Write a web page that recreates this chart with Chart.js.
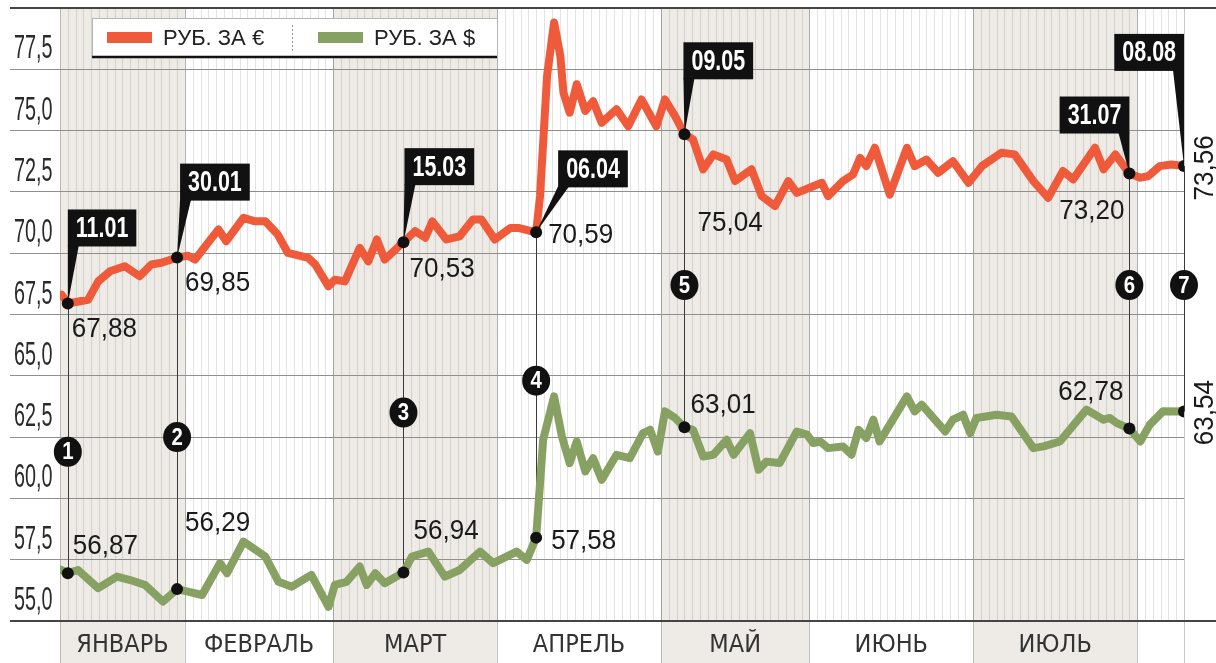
<!DOCTYPE html>
<html lang="ru">
<head>
<meta charset="utf-8">
<title>Курс рубля</title>
<script src="https://cdn.jsdelivr.net/npm/chart.js@4.4.1/dist/chart.umd.min.js"></script>
<style>
  html, body { margin: 0; padding: 0; background: #fff; }
  #wrap { width: 1216px; height: 663px; }
</style>
</head>
<body>
<div id="wrap"><canvas id="kurs" width="1216" height="663"></canvas></div>
<script>
// --- данные (индекс торгового дня с 10.01) ---
const monthNames = ["ЯНВАРЬ", "ФЕВРАЛЬ", "МАРТ", "АПРЕЛЬ", "МАЙ", "ИЮНЬ", "ИЮЛЬ", ""];
const monthStarts = [0, 16, 35, 56, 77, 96, 117, 138, 144];
const yTicks = [55, 57.5, 60, 62.5, 65, 67.5, 70, 72.5, 75, 77.5, 80];

const eurX = [0.2, 1, 3.6, 4.9, 6.4, 8.3, 10.2, 11.7, 13, 15, 16.4, 17.3, 20.3, 21.3, 23.5, 25, 26.3, 27.9, 29.2, 31.8,
  32.7, 34.4, 35.2, 36.5, 38.4, 39.5, 40.6, 41.6, 44, 45.5, 46.8, 47.7, 49.5, 51.2, 52.9, 54, 55.7, 57.7, 58.7, 61,
  61.5, 62.4, 63.3, 64.1, 64.5, 65.3, 66.2, 67.3, 68.3, 69.4, 71.3, 72.8, 74.5, 76.4, 77.5, 78.8, 80, 81.1, 82.4, 83.7,
  85.4, 86.5, 88.6, 89.9, 91.6, 93.3, 94.4, 96.5, 97.6, 98.4, 100.3, 101.6, 102.5, 103.3, 104.4, 106.3, 108.5, 109.5, 111, 112.5,
  114.4, 116.4, 118.1, 120.6, 122.3, 124.7, 126.6, 128.5, 129.8, 132.6, 133.7, 135.2, 137, 138.4, 139.4, 140.9, 142.4, 144];
const eurY = [68.31, 67.95, 68.1, 68.85, 69.26, 69.47, 69.06, 69.54, 69.61, 69.82, 69.9, 69.74, 70.97, 70.49, 71.44, 71.3, 71.3, 70.76, 70.01, 69.81,
  69.54, 68.65, 68.92, 68.85, 70.22, 69.67, 70.56, 69.74, 70.45, 70.9, 70.63, 71.3, 70.56, 70.69, 71.37, 71.37, 70.56, 71.03, 71.03, 70.85,
  72.33, 77.23, 79.41, 78.04, 76.55, 75.73, 76.89, 75.8, 76.2, 75.32, 75.87, 75.18, 76.27, 75.18, 76.27, 75.59, 74.85, 74.64, 73.42, 74.03,
  73.82, 72.94, 73.42, 72.33, 71.92, 72.94, 72.46, 72.73, 72.87, 72.33, 72.94, 73.21, 73.89, 73.55, 74.3, 72.39, 74.3, 73.55, 73.82, 73.28,
  73.75, 72.87, 73.55, 74.1, 74.03, 72.94, 72.26, 73.35, 73.01, 74.3, 73.42, 74.03, 73.25, 73.08, 73.14, 73.55, 73.62, 73.56];

const usdX = [0.2, 1, 2.3, 4.9, 7.3, 9, 10.9, 13.2, 15, 16.4, 18.2, 20.5, 21.4, 23.5, 26.3, 28, 29.7, 32.2, 34.4, 35.2,
  36.7, 38.4, 39.3, 40.4, 41.6, 44, 45.1, 47.2, 49.3, 51.2, 53.8, 55.5, 58.5, 59.8, 61, 61.9, 63.3, 64.3, 65.3, 66.2,
  67.3, 68.3, 69.4, 71.3, 73, 74.7, 75.6, 76.6, 77.5, 78.8, 80, 81.1, 82.4, 83.7, 85.4, 86.3, 88.4, 89.5, 90.5, 92.2,
  94.4, 95.7, 96.5, 97.4, 98.4, 100.3, 101.4, 102.3, 103.3, 104.2, 105, 108.5, 109.5, 110.4, 113.4, 114.4, 115.7, 116.6, 117.4, 120,
  121.9, 124.7, 126, 128.1, 131.5, 133.7, 134.5, 135.4, 137, 138.4, 139.6, 141.3, 144];
const usdY = [57.08, 56.95, 57.08, 56.34, 56.81, 56.67, 56.47, 55.79, 56.3, 56.2, 56.06, 57.36, 56.95, 58.24, 57.63, 56.6, 56.4, 56.88, 55.58, 56.47,
  56.6, 57.22, 56.47, 56.95, 56.54, 56.98, 57.63, 57.83, 56.81, 57.08, 57.83, 57.36, 57.83, 57.49, 58.4, 62.39, 64.16, 62.53, 61.44, 62.32,
  61.1, 61.64, 60.76, 61.78, 61.64, 62.66, 62.8, 61.91, 63.55, 63.28, 62.9, 62.8, 61.71, 61.78, 62.39, 61.78, 62.66, 61.17, 61.5, 61.44,
  62.73, 62.6, 62.26, 62.32, 62.05, 62.12, 61.78, 62.8, 62.46, 63.21, 62.32, 64.16, 63.55, 63.82, 62.73, 63.21, 63.41, 62.66, 63.28, 63.41,
  63.34, 62.05, 62.12, 62.32, 63.62, 63.21, 63.28, 63.07, 62.85, 62.32, 63.0, 63.55, 63.54];

const keyDates = ["11.01", "30.01", "15.03", "06.04", "09.05", "31.07", "08.08"];
const keyX = [1, 15, 44, 61, 80, 137, 144];
const eurLabels = ["67,88", "69,85", "70,53", "70,59", "75,04", "73,20", "73,56"];
const usdLabels = ["56,87", "56,29", "56,94", "57,58", "63,01", "62,78", "63,54"];

// --- оформление ---
const euroColor = "#ee5a3a";
const usdColor = "#87a163";
const bandColor = "#eeebe6";
const NARROW = '"Liberation Sans Narrow", "DejaVu Sans Condensed", "Liberation Sans", sans-serif';
const SANS = '"Liberation Sans", Arial, sans-serif';

// где рисовать выноски, кружки и подписи (смещения в пикселях от точки)
const layoutNotes = {
  callout: [
    { dx: 0, dy: -94, side: "left" }, { dx: 3, dy: -94, side: "left" }, { dx: 1, dy: -94, side: "left" },
    { dx: 22, dy: -82, side: "left" }, { dx: -1, dy: -92, side: "left" },
    { dx: 0, dy: -77, side: "right" }, { dx: 0, dy: -132, side: "right" },
  ],
  badgeValue: [61.9, 62.5, 63.5, 64.8, 68.7, 68.7, 68.7],
  eurText: [
    { dx: 4, dy: 26, align: "left" }, { dx: 8, dy: 26, align: "left" }, { dx: 6, dy: 27, align: "left" },
    { dx: 12, dy: 3, align: "left" }, { dx: 13, dy: 89, align: "left" }, { dx: -5, dy: 38, align: "right" },
    { dx: 21, dy: 2, rot: true },
  ],
  usdText: [
    { dx: 5, dy: -27, align: "left" }, { dx: 8, dy: -66, align: "left" }, { dx: 10, dy: -41, align: "left" },
    { dx: 15, dy: 4, align: "left" }, { dx: 6, dy: -22, align: "left" }, { dx: -6, dy: -36, align: "right" },
    { dx: 21, dy: 1, rot: true },
  ],
};

function puntoEn(chart, dsIndex, xv) {
  const meta = chart.getDatasetMeta(dsIndex);
  const i = chart.data.datasets[dsIndex].data.findIndex((p) => p.x === xv);
  return meta.data[i];
}

// текст, сжатый по горизонтали (узкий шрифт)
function textoEstrecho(ctx, txt, x, y, sx, align) {
  ctx.save();
  ctx.translate(x, y);
  ctx.scale(sx, 1);
  ctx.textAlign = align;
  ctx.fillText(txt, 0, 0);
  ctx.restore();
}

const plugin_fondo = {
  id: "fondo",
  beforeDraw(chart) {
    const { ctx, chartArea: a, scales: { x } } = chart;
    ctx.save();
    ctx.fillStyle = "#fff";
    ctx.fillRect(0, 0, chart.width, chart.height);
    // полосы месяцев
    for (let m = 0; m < monthStarts.length - 1; m++) {
      if (m % 2 !== 0) continue;
      const x0 = x.getPixelForValue(monthStarts[m]);
      const x1 = x.getPixelForValue(monthStarts[m + 1]);
      ctx.fillStyle = bandColor;
      ctx.fillRect(x0, a.top, x1 - x0, chart.height - a.top);
    }
    // линии по дням
    ctx.strokeStyle = "rgba(0,0,0,0.11)";
    ctx.lineWidth = 1;
    ctx.beginPath();
    for (let d = 1; d < monthStarts[monthStarts.length - 1]; d++) {
      const px = Math.round(x.getPixelForValue(d)) + 0.5;
      ctx.moveTo(px, a.top);
      ctx.lineTo(px, a.bottom);
    }
    ctx.stroke();
    // границы месяцев
    ctx.strokeStyle = "rgba(0,0,0,0.22)";
    ctx.beginPath();
    monthStarts.forEach((m) => {
      const px = Math.round(x.getPixelForValue(m)) + 0.5;
      ctx.moveTo(px, a.top);
      ctx.lineTo(px, chart.height);
    });
    ctx.stroke();
    ctx.restore();
  },
  beforeDatasetsDraw(chart) {
    const { ctx, chartArea: a, scales: { y } } = chart;
    ctx.save();
    // верхняя и нижняя линии
    ctx.strokeStyle = "#444";
    ctx.lineWidth = 2;
    ctx.beginPath();
    ctx.moveTo(10, a.top);
    ctx.lineTo(chart.width, a.top);
    ctx.moveTo(10, a.bottom);
    ctx.lineTo(chart.width, a.bottom);
    ctx.stroke();

    // подписи оси Y (узкие, над линией сетки)
    ctx.fillStyle = "#2a2a2a";
    ctx.font = "33px " + SANS;
    ctx.textBaseline = "middle";
    y.ticks.forEach((t) => {
      if (t.value >= 80) return;
      const txt = t.value.toFixed(1).replace(".", ",");
      textoEstrecho(ctx, txt, 14, y.getPixelForValue(t.value) - 20, 0.6, "left");
    });

    // вертикальные линии ключевых дат
    ctx.strokeStyle = "#3a3a3a";
    ctx.lineWidth = 1;
    keyX.forEach((kx) => {
      const pe = puntoEn(chart, 0, kx);
      const pu = puntoEn(chart, 1, kx);
      const px = Math.round(pe.x) + 0.5;
      ctx.beginPath();
      ctx.moveTo(px, pe.y);
      ctx.lineTo(px, pu.y);
      ctx.stroke();
    });

    // легенда
    const lx = 92, ly = 18, lw = 405, lh = 39;
    ctx.fillStyle = "#fff";
    ctx.fillRect(lx, ly, lw, lh);
    ctx.strokeStyle = "#b5b5b5";
    ctx.lineWidth = 1;
    ctx.strokeRect(lx + 0.5, ly + 0.5, lw, lh);
    ctx.strokeStyle = "#111";
    ctx.lineWidth = 2.5;
    ctx.beginPath();
    ctx.moveTo(lx, ly + lh);
    ctx.lineTo(lx + lw, ly + lh);
    ctx.stroke();
    ctx.setLineDash([2, 2]);
    ctx.strokeStyle = "#999";
    ctx.lineWidth = 1;
    ctx.beginPath();
    ctx.moveTo(292.5, 25);
    ctx.lineTo(292.5, 52);
    ctx.stroke();
    ctx.setLineDash([]);
    ctx.font = "22px " + SANS;
    ctx.textBaseline = "middle";
    ctx.textAlign = "left";
    chart.data.datasets.forEach((ds, i) => {
      const sx = i === 0 ? 107 : 318;
      ctx.fillStyle = ds.borderColor;
      ctx.fillRect(sx, 32, 45, 11);
      ctx.fillStyle = "#222";
      ctx.fillText(ds.label, sx + 56, 39);
    });
    ctx.restore();
  },
  afterDatasetsDraw(chart) {
    const { ctx, scales: { y } } = chart;
    ctx.save();
    ctx.textBaseline = "middle";
    keyX.forEach((kx, k) => {
      const pe = puntoEn(chart, 0, kx);
      const pu = puntoEn(chart, 1, kx);

      // кружок с номером
      const by = y.getPixelForValue(layoutNotes.badgeValue[k]);
      ctx.fillStyle = "#111";
      ctx.beginPath();
      ctx.ellipse(pe.x, by, 14, 15, 0, 0, Math.PI * 2);
      ctx.fill();
      ctx.fillStyle = "#fff";
      ctx.font = "bold 24px " + SANS;
      textoEstrecho(ctx, String(k + 1), pe.x, by + 1, 0.85, "center");

      // выноска с датой
      const c = layoutNotes.callout[k];
      ctx.font = "bold 29px " + SANS;
      const sx = 0.74;
      const tw = ctx.measureText(keyDates[k]).width * sx;
      const bw = tw + 16, bh = 37;
      const top = pe.y + c.dy;
      const left = c.side === "left" ? pe.x + c.dx : pe.x + c.dx - bw;
      const b0 = c.side === "left" ? left : left + bw - 11;
      ctx.fillStyle = "#111";
      ctx.fillRect(left, top, bw, bh);
      ctx.beginPath();
      ctx.moveTo(b0, top + bh - 1);
      ctx.lineTo(b0 + 11, top + bh - 1);
      ctx.lineTo(pe.x, pe.y);
      ctx.closePath();
      ctx.fill();
      ctx.fillStyle = "#fff";
      textoEstrecho(ctx, keyDates[k], left + bw / 2, top + bh / 2 + 1, sx, "center");

      // подписи значений
      ctx.fillStyle = "#1a1a1a";
      ctx.font = "28px " + SANS;
      [[pe, layoutNotes.eurText[k], eurLabels[k]], [pu, layoutNotes.usdText[k], usdLabels[k]]].forEach(([p, t, txt]) => {
        if (t.rot) {
          ctx.save();
          ctx.translate(p.x + t.dx, p.y + t.dy);
          ctx.rotate(-Math.PI / 2);
          textoEstrecho(ctx, txt, 0, 0, 0.93, "center");
          ctx.restore();
        } else {
          textoEstrecho(ctx, txt, p.x + t.dx, p.y + t.dy, 0.93, t.align);
        }
      });
    });
    ctx.restore();
  },
};

const radioPunto = (c) => (c.raw && keyX.includes(c.raw.x) ? 6 : 0);

const ctx = document.getElementById("kurs").getContext("2d");
const chart_kurs = new Chart(ctx, {
  type: "line",
  data: {
    datasets: [
      {
        label: "РУБ. ЗА €",
        data: eurX.map((x, i) => ({ x: x, y: eurY[i] })),
        borderColor: euroColor,
        borderWidth: 8,
        borderJoinStyle: "round",
        borderCapStyle: "round",
        pointRadius: radioPunto,
        pointBackgroundColor: "#111",
        pointBorderWidth: 0,
        tension: 0,
      },
      {
        label: "РУБ. ЗА $",
        data: usdX.map((x, i) => ({ x: x, y: usdY[i] })),
        borderColor: usdColor,
        borderWidth: 8,
        borderJoinStyle: "round",
        borderCapStyle: "round",
        pointRadius: radioPunto,
        pointBackgroundColor: "#111",
        pointBorderWidth: 0,
        tension: 0,
      },
    ],
  },
  options: {
    responsive: false,
    animation: false,
    layout: { padding: { left: 12, top: 8, right: 32, bottom: 0 } },
    plugins: {
      legend: { display: false },
      tooltip: { enabled: false },
    },
    scales: {
      x: {
        type: "linear",
        min: monthStarts[0],
        max: monthStarts[monthStarts.length - 1],
        afterBuildTicks: (scale) => {
          scale.ticks = monthNames.slice(0, 7).map((n, i) => ({ value: (monthStarts[i] + monthStarts[i + 1]) / 2 }));
        },
        afterFit: (scale) => { scale.height = 42; },
        grid: { display: false, drawTicks: false },
        border: { display: false },
        ticks: {
          autoSkip: false,
          maxRotation: 0,
          padding: 9,
          color: "#333",
          font: { family: NARROW, size: 25 },
          callback: (v, i) => monthNames[i],
        },
      },
      y: {
        min: 55,
        max: 80,
        afterBuildTicks: (scale) => { scale.ticks = yTicks.map((v) => ({ value: v })); },
        afterFit: (scale) => { scale.width = 48; },
        grid: { color: "#8f8f8f", lineWidth: 1, drawTicks: true, tickLength: 50 },
        border: { display: false },
        ticks: { display: false },
      },
    },
  },
  plugins: [plugin_fondo],
});
</script>
</body>
</html>
